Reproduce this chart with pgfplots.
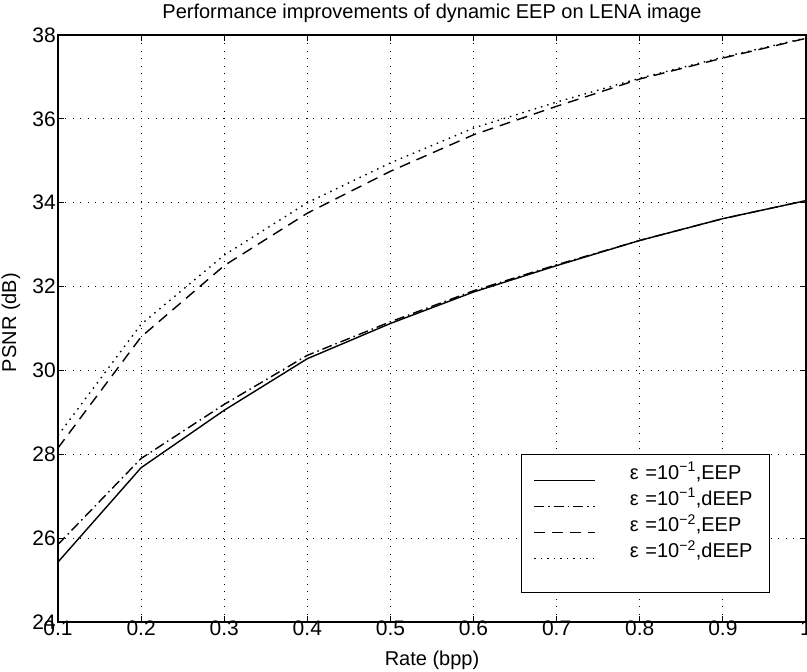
\documentclass[border=0pt]{standalone}
\usepackage{pgfplots}
\pgfplotsset{compat=1.18}
\usepackage{fontspec}
\setmainfont{Liberation Sans}
\begin{document}
\begin{tikzpicture}
\begin{axis}[
  scale only axis,
  width=748pt, height=587pt,
  xmin=0.1, xmax=1, ymin=24, ymax=38,
  xtick={0.1,0.2,...,1.0},
  xticklabels={0.1,0.2,0.3,0.4,0.5,0.6,0.7,0.8,0.9,1},
  ytick={24,26,...,38},
  tick align=inside,
  major tick length=6pt,
  grid=major,
  major grid style={black, line width=0.8pt, dash pattern=on 1pt off 6.5pt},
  axis line style={line width=1.3pt},
  every tick/.style={black, line width=1.1pt},
  /pgf/number format/assume math mode=true,
  ticklabel style={font=\fontsize{21}{24}\selectfont},
  xticklabel style={inner sep=1pt, yshift=2pt},
  yticklabel style={inner sep=2pt},
  title={Performance improvements of dynamic EEP on LENA image},
  title style={font=\fontsize{20}{23}\selectfont, at={(axis description cs:0.5,1.0275)}, anchor=center},
  xlabel={Rate (bpp)},
  ylabel={PSNR (dB)},
  xlabel style={font=\fontsize{20}{23}\selectfont, at={(axis description cs:0.5,-0.066)}, anchor=center},
  ylabel style={font=\fontsize{20}{23}\selectfont, at={(axis description cs:-0.063,0.51)}, anchor=center, rotate=0},
  legend cell align=left,
  legend style={at={(axis description cs:0.619,0.049)}, anchor=south west, draw=black, line width=1.1pt,
    font=\fontsize{20}{23}\selectfont, inner xsep=12pt, inner ysep=4pt,
    row sep=0pt, column sep=0pt,
    /tikz/every odd column/.append style={column sep=34pt},
    nodes={inner sep=0pt, minimum height=26pt, text width=128pt},
    legend image code/.code={\draw[#1, line width=1.3pt] (0pt,-9pt) -- (61pt,-9pt);}},
  legend columns=1,
]
\addplot[black, line width=1.4pt, solid] coordinates {
 (0.1,25.43) (0.2,27.68) (0.3,29.05) (0.4,30.28) (0.5,31.12) (0.6,31.87) (0.7,32.5) (0.8,33.1) (0.9,33.62) (1.0,34.05)};
\addlegendentry{ε =10\textsuperscript{−1},EEP}
\addplot[black, line width=1.4pt, dash pattern=on 10pt off 4pt on 1.5pt off 4pt] coordinates {
 (0.1,25.85) (0.2,27.9) (0.3,29.19) (0.4,30.36) (0.5,31.16) (0.6,31.9) (0.7,32.52) (0.8,33.1) (0.9,33.62) (1.0,34.05)};
\addlegendentry{ε =10\textsuperscript{−1},dEEP}
\addplot[black, line width=1.4pt, dash pattern=on 11pt off 7pt] coordinates {
 (0.1,28.15) (0.2,30.8) (0.3,32.5) (0.4,33.75) (0.5,34.75) (0.6,35.62) (0.7,36.3) (0.8,36.95) (0.9,37.45) (1.0,37.92)};
\addlegendentry{ε =10\textsuperscript{−2},EEP}
\addplot[black, line width=1.4pt, dash pattern=on 1.5pt off 5pt] coordinates {
 (0.1,28.45) (0.2,31.1) (0.3,32.75) (0.4,34.0) (0.5,34.95) (0.6,35.78) (0.7,36.4) (0.8,36.97) (0.9,37.47) (1.0,37.93)};
\addlegendentry{ε =10\textsuperscript{−2},dEEP}
\addlegendimage{empty legend}
\addlegendentry{}
\end{axis}
\pgfresetboundingbox
\path[use as bounding box] ([xshift=-58pt,yshift=-49pt]current axis.south west) rectangle ([xshift=1pt,yshift=35pt]current axis.north east);
\end{tikzpicture}
\end{document}
